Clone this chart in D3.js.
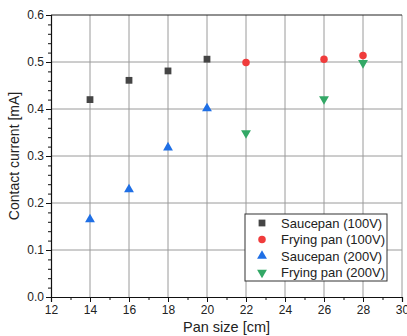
<!DOCTYPE html>
<html>
<head>
<meta charset="utf-8">
<script src="https://cdn.jsdelivr.net/npm/d3@7"></script>
<style>
  body { margin: 0; background: #fff; }
  svg { display: block; font-family: "Liberation Sans", Arial, sans-serif; }
</style>
</head>
<body>
<svg id="chart"></svg>
<script>
const width = 407;
const height = 336;

// ----- DATA -----
const xTicks = [12, 14, 16, 18, 20, 22, 24, 26, 28, 30];
const yTicks = [0.0, 0.1, 0.2, 0.3, 0.4, 0.5, 0.6];

const saucepan100 = [
  { x: 14, y: 0.420 }, { x: 16, y: 0.461 }, { x: 18, y: 0.481 }, { x: 20, y: 0.506 }
];
const fryingpan100 = [
  { x: 22, y: 0.499 }, { x: 26, y: 0.506 }, { x: 28, y: 0.514 }
];
const saucepan200 = [
  { x: 14, y: 0.165 }, { x: 16, y: 0.229 }, { x: 18, y: 0.318 }, { x: 20, y: 0.401 }
];
const fryingpan200 = [
  { x: 22, y: 0.349 }, { x: 26, y: 0.421 }, { x: 28, y: 0.498 }
];

const series = [
  { name: "Saucepan (100V)", data: saucepan100, color: "#454545", symbol: d3.symbolSquare, size: 46, rot: 0 },
  { name: "Frying pan (100V)", data: fryingpan100, color: "#f03c3c", symbol: d3.symbolCircle, size: 44, rot: 0 },
  { name: "Saucepan (200V)", data: saucepan200, color: "#1f6fe5", symbol: d3.symbolTriangle, size: 42, rot: 0 },
  { name: "Frying pan (200V)", data: fryingpan200, color: "#33a866", symbol: d3.symbolTriangle, size: 42, rot: 180 }
];

const margin = { top: 15, right: 5, bottom: 39, left: 51 };

const svg = d3.select("#chart")
  .attr("width", width)
  .attr("height", height);

const x = d3.scaleLinear()
  .domain([12, 30])
  .range([margin.left, width - margin.right]);

const y = d3.scaleLinear()
  .domain([0, 0.6])
  .range([height - margin.bottom, margin.top]);

// grid
const grid = svg.append("g").attr("class", "grid");
grid.selectAll(".vgrid")
  .data(xTicks.slice(1))
  .join("line")
  .attr("x1", d => x(d)).attr("x2", d => x(d))
  .attr("y1", y(0)).attr("y2", y(0.6))
  .attr("stroke", "#9a9a9a")
  .attr("stroke-width", 1);
grid.selectAll(".hgrid")
  .data(yTicks.slice(1, -1))
  .join("line")
  .attr("x1", x(12)).attr("x2", x(30))
  .attr("y1", d => y(d)).attr("y2", d => y(d))
  .attr("stroke", "#9a9a9a")
  .attr("stroke-width", 1);

// top frame line
svg.append("line")
  .attr("x1", x(12)).attr("x2", x(30))
  .attr("y1", y(0.6)).attr("y2", y(0.6))
  .attr("stroke", "#222")
  .attr("stroke-width", 1.2);

// ----- AXES -----
const xAxis = svg.append("g")
  .attr("transform", `translate(0,${y(0)})`)
  .call(d3.axisBottom(x).tickValues(xTicks).tickSize(5).tickPadding(3).tickFormat(d3.format("d")));

const xMinor = svg.append("g")
  .attr("transform", `translate(0,${y(0)})`)
  .call(d3.axisBottom(x).tickValues(d3.range(13, 30, 2)).tickSize(3).tickFormat(""));

const yAxis = svg.append("g")
  .attr("transform", `translate(${x(12)},0)`)
  .call(d3.axisLeft(y).tickValues(yTicks).tickSize(5).tickPadding(2).tickFormat(d3.format(".1f")));

const yMinor = svg.append("g")
  .attr("transform", `translate(${x(12)},0)`)
  .call(d3.axisLeft(y).tickValues(d3.range(0.02, 0.6, 0.02).filter(v => Math.abs(v * 10 - Math.round(v * 10)) > 0.01)).tickSize(3).tickFormat(""));

[xAxis, xMinor, yAxis, yMinor].forEach(g => {
  g.select(".domain").attr("stroke", "#111").attr("stroke-width", 1.2);
  g.selectAll(".tick line").attr("stroke", "#111").attr("stroke-width", 1);
  g.selectAll(".tick text").attr("fill", "#222").style("font-size", "12px");
});
xMinor.select(".domain").remove();
yMinor.select(".domain").remove();

// axis titles
svg.append("text")
  .attr("x", x(21))
  .attr("y", height - 4)
  .attr("text-anchor", "middle")
  .attr("fill", "#222")
  .style("font-size", "14.5px")
  .text("Pan size [cm]");

svg.append("text")
  .attr("transform", `translate(19,${y(0.3)}) rotate(-90)`)
  .attr("text-anchor", "middle")
  .attr("fill", "#222")
  .style("font-size", "14px")
  .text("Contact current [mA]");

// ----- POINTS -----
series.forEach(s => {
  svg.append("g")
    .selectAll("path")
    .data(s.data)
    .join("path")
    .attr("transform", d => `translate(${x(d.x)},${y(d.y)}) rotate(${s.rot})`)
    .attr("d", d3.symbol(s.symbol, s.size))
    .attr("fill", s.color);
});

// ----- LEGEND -----
const legend = svg.append("g").attr("transform", "translate(245,214)");
legend.append("rect")
  .attr("width", 142)
  .attr("height", 67)
  .attr("fill", "#fff")
  .attr("stroke", "#333")
  .attr("stroke-width", 1);

series.forEach((s, i) => {
  const row = legend.append("g").attr("transform", `translate(0,${9 + i * 16.5})`);
  row.append("path")
    .attr("transform", `translate(17,0) rotate(${s.rot})`)
    .attr("d", d3.symbol(s.symbol, s.size))
    .attr("fill", s.color);
  row.append("text")
    .attr("x", 36)
    .attr("y", 4.5)
    .attr("fill", "#222")
    .style("font-size", "13px")
    .text(s.name);
});
</script>
</body>
</html>
